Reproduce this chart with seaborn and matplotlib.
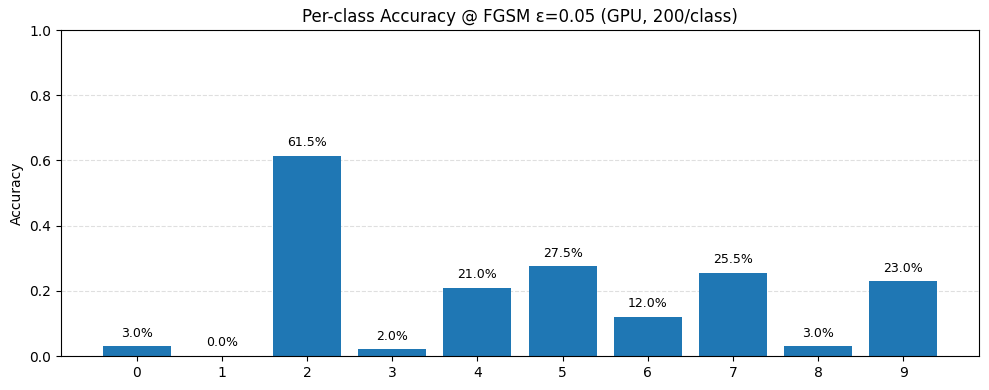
import matplotlib
matplotlib.use("Agg")
import matplotlib.pyplot as plt
import seaborn as sns
import pandas as pd

classes = ["0", "1", "2", "3", "4", "5", "6", "7", "8", "9"]
accuracy = [0.030, 0.000, 0.615, 0.020, 0.210, 0.275, 0.120, 0.255, 0.030, 0.230]

df = pd.DataFrame({"cls": classes, "acc": accuracy})

fig, ax = plt.subplots(figsize=(9.89, 3.9), dpi=100)
sns.barplot(data=df, x="cls", y="acc", color="#1f77b4", saturation=1, width=0.8, ax=ax, zorder=2)
for i, v in enumerate(accuracy):
    ax.text(i, v + 0.02, f"{v*100:.1f}%", ha="center", va="bottom", fontsize=9)
ax.set_ylim(0, 1.0)
ax.set_xlim(-0.89, 9.89)
ax.set_xlabel("")
ax.set_ylabel("Accuracy")
ax.set_title("Per-class Accuracy @ FGSM ε=0.05 (GPU, 200/class)")
ax.grid(axis="y", linestyle="--", alpha=0.4, zorder=0)
ax.set_axisbelow(True)
fig.subplots_adjust(left=61/989, right=979/989, top=1-30/390, bottom=1-356/390)
fig.savefig("out.png", dpi=100)
